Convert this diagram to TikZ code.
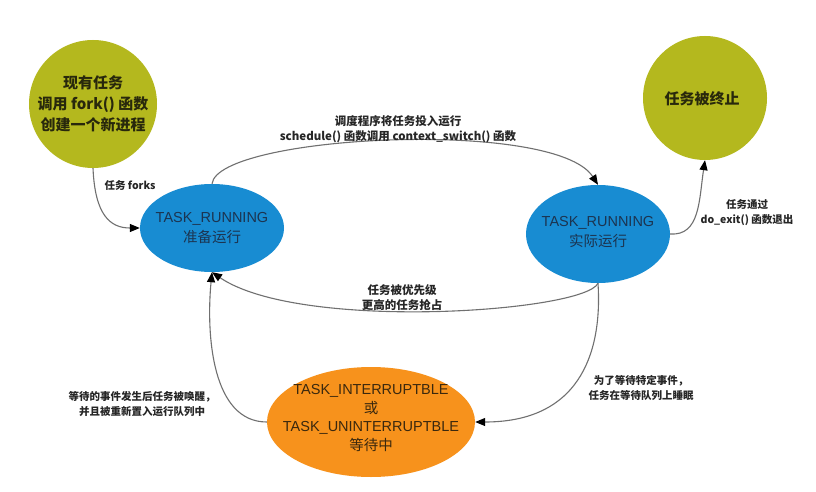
\documentclass[tikz,border=0pt]{standalone}
\usepackage{fontspec}
\setmainfont{Noto Sans CJK SC}
\newfontfamily\arialf{Liberation Sans}
\usetikzlibrary{shapes.geometric,arrows.meta}
\definecolor{olivegreen}{RGB}{180,184,30}
\definecolor{stateblue}{RGB}{24,140,210}
\definecolor{stateorange}{RGB}{247,146,28}
\definecolor{bluetext}{RGB}{28,52,80}
\definecolor{olivetext}{RGB}{40,40,12}
\definecolor{orangetext}{RGB}{58,40,14}
\definecolor{linegray}{RGB}{112,112,112}
\tikzset{
  endcircle/.style={circle,fill=olivegreen,inner sep=0pt},
  blueellipse/.style={ellipse,fill=stateblue,inner sep=0pt},
  orangeellipse/.style={ellipse,fill=stateorange,inner sep=0pt},
  nodetext/.style={align=center,font=\fontsize{15}{21}\selectfont},
  edgelabel/.style={align=center,font=\fontsize{10.5}{15}\selectfont\bfseries,text=black!85},
  biglabel/.style={edgelabel,font=\fontsize{11.5}{15}\selectfont\bfseries},
  conn/.style={draw=linegray,line width=1.1pt,-{Triangle[length=10pt,width=8pt,color=black]}}
}
\begin{document}
\begin{tikzpicture}[x=1pt,y=-1pt]
\useasboundingbox (0,0) rectangle (816,492);
\fill[white] (0,0) rectangle (816,492);

% states
\node[endcircle,minimum size=128pt] (g1) at (93,104) {};
\node[nodetext,text=olivetext,font=\fontsize{15}{21}\selectfont\bfseries] (g1t) at (g1) {现有任务\\调用 fork() 函数\\创建一个新进程};
\node[endcircle,minimum size=124pt] (g2) at (705,98) {};
\node[nodetext,text=olivetext,font=\fontsize{15}{21}\selectfont\bfseries] (g2t) at (702,99) {任务被终止};
\node[blueellipse,minimum width=144pt,minimum height=88pt] (b1) at (212,228) {};
\node[nodetext,text=bluetext,font=\fontsize{14.5}{20}\selectfont] (b1t) at (b1) {{\arialf TASK\_RUNNING}\\准备运行};
\node[blueellipse,minimum width=144pt,minimum height=98pt] (b2) at (598,234) {};
\node[nodetext,text=bluetext,font=\fontsize{14.5}{20}\selectfont] (b2t) at (598,232) {{\arialf TASK\_RUNNING}\\实际运行};
\node[orangeellipse,minimum width=208pt,minimum height=110pt] (o) at (371,422) {};
\node[nodetext,text=orangetext,font=\fontsize{14.5}{18.5}\selectfont] (ot) at (371,418) {{\arialf TASK\_INTERRUPTBLE}\\或\\{\arialf TASK\_UNINTERRUPTBLE}\\等待中};

% connectors
\draw[conn] (g1.south) .. controls (95,215) and (110,228) .. (b1.west);
\draw[conn] (b1.north) .. controls (218,135) and (555,118) .. (b2.north);
\draw[conn] (b2.east) .. controls (700,236) and (699,200) .. (g2.south);
\draw[conn] (b2.south) .. controls (585,312) and (300,332) .. (b1.south);
\draw[conn] (b2.south) .. controls (602,345) and (585,422) .. (o.east);
\draw[conn] (o.west) .. controls (212,422) and (206,335) .. (b1.south);

% labels
\node[edgelabel,anchor=west] (l1) at (101,185) {任务 forks};
\node[biglabel] (l2) at (398,129) {调度程序将任务投入运行\\schedule() 函数调用 context\_switch() 函数};
\node[edgelabel] (l3) at (747,213) {任务通过\\do\_exit() 函数退出};
\node[biglabel] (l4) at (402,298) {任务被优先级\\更高的任务抢占};
\node[edgelabel] (l5) at (641,388) {为了等待特定事件，\\任务在等待队列上睡眠};
\node[edgelabel] (l6) at (142,404) {等待的事件发生后任务被唤醒，\\并且被重新置入运行队列中};
\end{tikzpicture}
\end{document}
